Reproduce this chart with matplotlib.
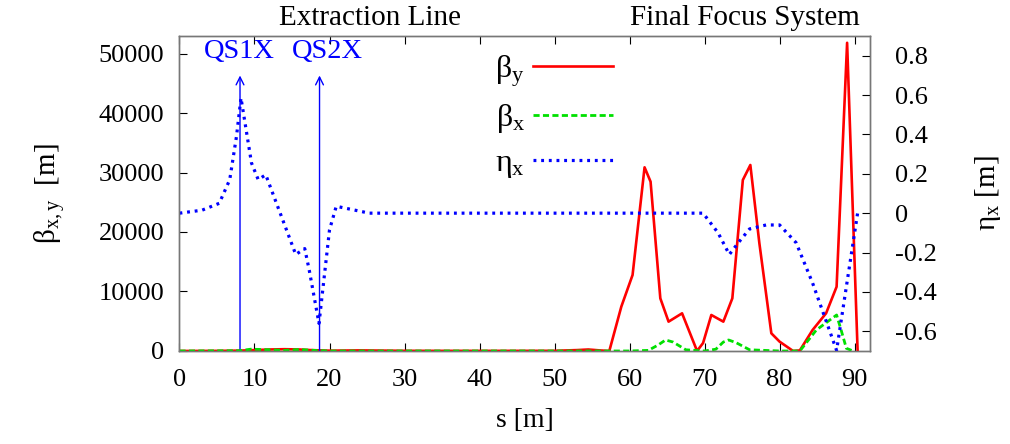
import numpy as np
import matplotlib
matplotlib.use("Agg")
import matplotlib.pyplot as plt

plt.rcParams['font.family'] = ['Liberation Serif', 'DejaVu Serif']
plt.rcParams['mathtext.fontset'] = 'custom'
plt.rcParams['mathtext.rm'] = 'Liberation Serif'
plt.rcParams['mathtext.it'] = 'Liberation Serif:italic'
plt.rcParams['font.size'] = 19

# beta_y [m]
s_by = [0, 5, 8, 10, 12, 14, 16, 17.5, 20, 24, 30, 40, 50, 53, 54.5, 56, 57.3,
        58.9, 60.4, 62.0, 62.8, 64.1, 65.2, 67.0, 69.0, 69.8, 70.9, 72.5, 73.7,
        75.1, 76.1, 77.3, 78.9, 80.0, 81.8, 82.7, 84.4, 86.2, 87.6, 89.0, 90.4]
beta_y = [0, 20, 60, 150, 250, 300, 250, 150, 50, 100, 30, 20, 30, 150, 250, 100, 0,
          7450, 12770, 30870, 28460, 8850, 4930, 6330, 0, 1340, 6050, 4930, 8850,
          28740, 31260, 18150, 2970, 1570, 0, 100, 3530, 6340, 10800, 51800, 0]

# beta_x [m]
s_bx = [0, 8, 9.5, 11, 14, 16, 18, 20, 30, 40, 50, 60, 62.5, 63.8, 64.8, 65.8, 67.5,
        70, 71.5, 72.5, 73.2, 74.2, 76, 80, 82.7, 84.9, 87.6, 88.2, 88.9, 89.8]
beta_x = [0, 50, 300, 250, 100, 250, 100, 0, 0, 0, 0, 0, 100, 1000, 1850, 1500, 200,
          0, 300, 1500, 1850, 1400, 200, 0, 0, 3530, 6050, 3530, 450, 0]

# eta_x [m]
s_eta = [0, 3, 5.3, 6.7, 7.6, 8.2, 8.9, 9.6, 10.5, 11.5, 15.5, 16.7, 17.3, 18.6,
         19.1, 20.0, 20.9, 25.3, 69.8, 71.8, 73.3, 74.5, 76.0, 78.2, 80.0, 82.2,
         84.4, 87.6, 90.4]
eta_x = [0, 0.015, 0.05, 0.17, 0.39, 0.585, 0.42, 0.255, 0.17, 0.195, -0.21, -0.18,
         -0.29, -0.56, -0.39, -0.085, 0.035, 0, 0, -0.1, -0.21, -0.15, -0.08, -0.06,
         -0.06, -0.15, -0.355, -0.697, 0]

# quadrupoles
quad_names = ['QS1X', 'QS2X']
quad_s = [8.07, 18.67]
quad_label_s = [8.0, 19.7]

fig = plt.figure(figsize=(10.1, 4.44), dpi=100)
ax = fig.add_axes([0.1777, 0.2095, 0.6833, 0.7095])
ax2 = ax.twinx()

l_by, = ax.plot(s_by, beta_y, color='#ff0000', lw=1.9, label=r'$\mathrm{\beta_y}$', zorder=3)
l_bx, = ax.plot(s_bx, beta_x, color='#00e000', lw=2.0, ls=(0, (2.2, 1.2)),
                label=r'$\mathrm{\beta_x}$', zorder=4)
l_eta, = ax2.plot(s_eta, eta_x, color='#0000ff', lw=2.3, ls=(0, (0.9, 1.5)),
                  label=r'$\mathrm{\eta_x}$')

for name, sq, sl in zip(quad_names, quad_s, quad_label_s):
    ax.annotate('', xy=(sq, 46300), xytext=(sq, 0),
                arrowprops=dict(arrowstyle='->', color='#0000ff', lw=1.0,
                                shrinkA=0, shrinkB=0, mutation_scale=14))
    ax.text(sl, 50300, name, color='#0000ff', ha='center', va='center', fontsize=20.5)

ax.set_xlim(0, 92)
ax.set_ylim(0, 52950)
ax2.set_ylim(-0.7, 0.9)
ax.set_xticks(np.arange(0, 91, 10))
ax.set_yticks(np.arange(0, 50001, 10000))
ax2.set_yticks(np.arange(-0.6, 0.81, 0.2))
ax2.set_yticklabels(['%g' % round(v, 1) for v in np.arange(-0.6, 0.81, 0.2)])

ax.tick_params(axis='x', direction='in', length=6, width=0.8, top=True, pad=13)
ax.tick_params(axis='y', direction='in', length=6, width=0.8, pad=11)
ax2.tick_params(axis='y', direction='in', length=6, width=0.8, pad=18)
for a in (ax, ax2):
    for sp in a.spines.values():
        sp.set_color('#777777')
        sp.set_linewidth(1.0)

ax.set_xlabel('s [m]', labelpad=12, fontsize=20)
ax.set_ylabel(r'$\mathrm{\beta_{x,y}}$  [m]', labelpad=22, fontsize=21)
ax2.set_ylabel(r'$\mathrm{\eta_x}$ [m]', labelpad=26, rotation=90, fontsize=21)

fig.text(370 / 1010, 1 - 18 / 444, 'Extraction Line', ha='center', va='center', fontsize=21)
fig.text(745 / 1010, 1 - 18 / 444, 'Final Focus System', ha='center', va='center', fontsize=21)

ax2.legend(handles=[l_by, l_bx, l_eta], loc='upper right', markerfirst=False,
           frameon=False, handlelength=2.5, handletextpad=0.25, labelspacing=0.42,
           borderpad=0, borderaxespad=0, fontsize=23,
           bbox_to_anchor=(613 / 1010, 1 - 53 / 444), bbox_transform=fig.transFigure)

fig.savefig('out.png', dpi=100)
